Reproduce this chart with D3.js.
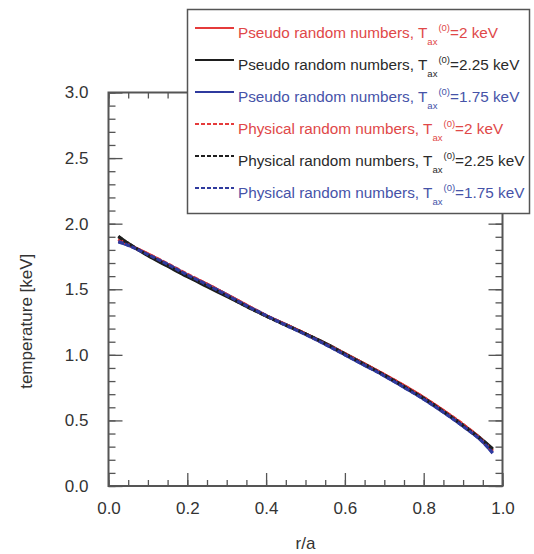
<!DOCTYPE html>
<html>
<head>
<meta charset="utf-8">
<script src="https://cdn.jsdelivr.net/npm/d3@7"></script>
<style>
  body { margin: 0; background: #fff; }
  text { font-family: "Liberation Sans", Arial, sans-serif; }
</style>
</head>
<body>
<svg id="chart"></svg>
<script>
// radial positions r/a
var radius = [0.025, 0.05, 0.1, 0.15, 0.2, 0.25, 0.3, 0.35, 0.4, 0.45, 0.5,
              0.55, 0.6, 0.65, 0.7, 0.75, 0.8, 0.85, 0.9, 0.95, 0.975];

// temperature [keV] for each run
var pseudo2   = [1.88, 1.84, 1.77, 1.69, 1.61, 1.54, 1.46, 1.38, 1.30, 1.23, 1.16, 1.085, 1.005, 0.93, 0.85, 0.765, 0.675, 0.575, 0.465, 0.345, 0.27];
var pseudo225 = [1.905, 1.85, 1.755, 1.675, 1.595, 1.52, 1.445, 1.37, 1.295, 1.23, 1.16, 1.09, 1.01, 0.93, 0.845, 0.76, 0.67, 0.57, 0.465, 0.35, 0.285];
var pseudo175 = [1.86, 1.835, 1.765, 1.69, 1.61, 1.535, 1.46, 1.375, 1.30, 1.23, 1.155, 1.08, 1.0, 0.92, 0.84, 0.752, 0.662, 0.562, 0.455, 0.335, 0.25];
var phys2     = [1.88, 1.84, 1.77, 1.695, 1.615, 1.54, 1.46, 1.38, 1.30, 1.23, 1.16, 1.085, 1.01, 0.93, 0.85, 0.765, 0.675, 0.575, 0.47, 0.345, 0.265];
var phys225   = [1.90, 1.85, 1.76, 1.68, 1.60, 1.525, 1.45, 1.37, 1.295, 1.225, 1.16, 1.085, 1.005, 0.925, 0.845, 0.758, 0.668, 0.568, 0.46, 0.345, 0.28];
var phys175   = [1.865, 1.835, 1.765, 1.69, 1.61, 1.535, 1.455, 1.375, 1.30, 1.225, 1.155, 1.08, 1.0, 0.92, 0.84, 0.752, 0.662, 0.562, 0.455, 0.335, 0.255];

var seriesNames = ["Pseudo random numbers, ", "Pseudo random numbers, ", "Pseudo random numbers, ",
                   "Physical random numbers, ", "Physical random numbers, ", "Physical random numbers, "];
var seriesTax = ["2", "2.25", "1.75", "2", "2.25", "1.75"];
var seriesValues = [pseudo2, pseudo225, pseudo175, phys2, phys225, phys175];
var seriesColors = ["#e53b3b", "#1e1e1e", "#2f3a9e", "#e53b3b", "#1e1e1e", "#2f3a9e"];
var textColors = ["#e04848", "#2a2a2a", "#4653a8", "#e04848", "#2a2a2a", "#4653a8"];
var seriesDashed = [false, false, false, true, true, true];

var xTicks = [0.0, 0.2, 0.4, 0.6, 0.8, 1.0];
var yTicks = [0.0, 0.5, 1.0, 1.5, 2.0, 2.5, 3.0];

var width = 534, height = 554;
var plotLeft = 108.5, plotRight = 502.5, plotTop = 92.5, plotBottom = 486;

var svg = d3.select("#chart").attr("width", width).attr("height", height);

var x = d3.scaleLinear().domain([0, 1]).range([plotLeft, plotRight]);
var y = d3.scaleLinear().domain([0, 3]).range([plotBottom, plotTop]);

var axisColor = "#555";
var labelColor = "#333";

function styleAxis(g) {
    g.select(".domain").remove();
    g.selectAll("line").attr("stroke", axisColor).attr("stroke-width", 1.3);
    g.selectAll("text").attr("fill", labelColor).style("font-size", "17px");
}

var xMinor = d3.range(0, 1.0001, 0.05);
var yMinor = d3.range(0, 3.0001, 0.1);

// minor ticks
svg.append("g").attr("transform", "translate(0," + plotBottom + ")")
    .call(d3.axisBottom(x).tickValues(xMinor).tickSize(-6).tickFormat("")).call(styleAxis);
svg.append("g").attr("transform", "translate(0," + plotTop + ")")
    .call(d3.axisTop(x).tickValues(xMinor).tickSize(-6).tickFormat("")).call(styleAxis);
svg.append("g").attr("transform", "translate(" + plotLeft + ",0)")
    .call(d3.axisLeft(y).tickValues(yMinor).tickSize(-7).tickFormat("")).call(styleAxis);
svg.append("g").attr("transform", "translate(" + plotRight + ",0)")
    .call(d3.axisRight(y).tickValues(yMinor).tickSize(-7).tickFormat("")).call(styleAxis);

// major ticks with labels
svg.append("g").attr("transform", "translate(0," + plotBottom + ")")
    .call(d3.axisBottom(x).tickValues(xTicks).tickSize(-13).tickPadding(16).tickFormat(d3.format(".1f")))
    .call(styleAxis);
svg.append("g").attr("transform", "translate(0," + plotTop + ")")
    .call(d3.axisTop(x).tickValues(xTicks).tickSize(-13).tickFormat("")).call(styleAxis);
svg.append("g").attr("transform", "translate(" + plotLeft + ",0)")
    .call(d3.axisLeft(y).tickValues(yTicks).tickSize(-14).tickPadding(20).tickFormat(d3.format(".1f")))
    .call(styleAxis);
svg.append("g").attr("transform", "translate(" + plotRight + ",0)")
    .call(d3.axisRight(y).tickValues(yTicks).tickSize(-14).tickFormat("")).call(styleAxis);

// frame
svg.append("rect")
    .attr("x", plotLeft).attr("y", plotTop)
    .attr("width", plotRight - plotLeft).attr("height", plotBottom - plotTop)
    .attr("fill", "none").attr("stroke", axisColor).attr("stroke-width", 2);

// curves
var line = d3.line()
    .x(function(d, i) { return x(radius[i]); })
    .y(function(d) { return y(d); })
    .curve(d3.curveMonotoneX);

seriesValues.forEach(function(vals, k) {
    svg.append("path")
        .datum(vals)
        .attr("d", line)
        .attr("fill", "none")
        .attr("stroke", seriesColors[k])
        .attr("stroke-width", 3)
        .attr("stroke-dasharray", seriesDashed[k] ? "5,2" : null);
});

// axis titles
svg.append("text")
    .attr("transform", "translate(32," + ((plotTop + plotBottom) / 2 + 32) + ") rotate(-90)")
    .attr("text-anchor", "middle")
    .attr("fill", labelColor)
    .style("font-size", "17px")
    .text("temperature [keV]");

svg.append("text")
    .attr("x", (plotLeft + plotRight) / 2)
    .attr("y", 549)
    .attr("text-anchor", "middle")
    .attr("fill", labelColor)
    .style("font-size", "17px")
    .text("r/a");

// legend
var legend = svg.append("g");
legend.append("rect")
    .attr("x", 187.5).attr("y", 9.5)
    .attr("width", 342).attr("height", 204)
    .attr("fill", "#fff").attr("stroke", "#555").attr("stroke-width", 1.5);

var rows = legend.selectAll(".row")
    .data(seriesNames)
    .enter()
    .append("g")
    .attr("class", "row")
    .attr("transform", function(d, i) { return "translate(0," + (38 + i * 32) + ")"; });

rows.append("line")
    .attr("x1", 195).attr("x2", 234)
    .attr("y1", -10).attr("y2", -10)
    .attr("stroke", function(d, i) { return seriesColors[i]; })
    .attr("stroke-width", 2)
    .attr("stroke-dasharray", function(d, i) { return seriesDashed[i] ? "4,2" : null; });

var label = rows.append("text")
    .attr("x", 238).attr("y", 0)
    .attr("fill", function(d, i) { return textColors[i]; })
    .style("font-size", "15.3px");

label.append("tspan").text(function(d) { return d + "T"; });
label.append("tspan").attr("dy", 7).style("font-size", "9.5px").text("ax");
label.append("tspan").attr("dx", 1).attr("dy", -14).style("font-size", "9.5px").text("(0)");
label.append("tspan").attr("dy", 7).style("font-size", "15.3px")
    .text(function(d, i) { return "=" + seriesTax[i] + " keV"; });
</script>
</body>
</html>
